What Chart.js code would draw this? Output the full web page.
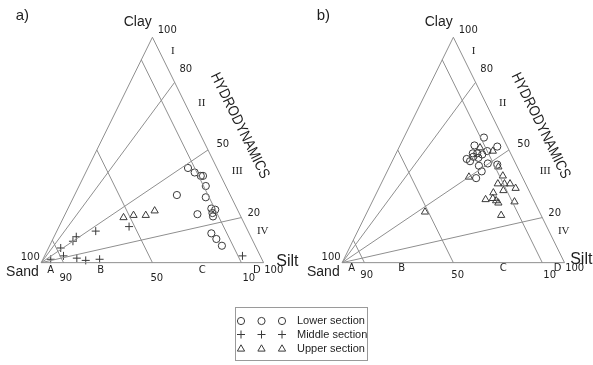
<!DOCTYPE html>
<html>
<head>
<meta charset="utf-8">
<script src="https://cdn.jsdelivr.net/npm/chart.js@4.4.1/dist/chart.umd.min.js"></script>
<style>
  html, body { margin: 0; padding: 0; background: #fff; }
  canvas { display: block; }
</style>
</head>
<body>
<canvas id="c" width="593" height="365"></canvas>
<script>
// Grain-size compositions in percent: [sand, silt, clay]
const lowerA = [
  [13, 45, 42], [11, 49, 40], [9, 52.5, 38.5], [8, 53.5, 38.5], [9, 57, 34],
  [24, 46, 30], [11.5, 59.5, 29], [19, 59.5, 21.5], [11.5, 64.5, 24], [10, 66.5, 23.5],
  [12, 66, 22], [12.5, 67, 20.5], [17, 70, 13], [16, 73.5, 10.5], [15, 77.5, 7.5]
];
const middleA = [
  [8, 89, 3], [52.5, 31.5, 16], [68.5, 17.5, 14], [78.5, 10, 11.5], [81, 9.5, 9.5],
  [88, 5.5, 6.5], [88.5, 8.5, 3], [95, 3.5, 1.5], [83, 15, 2], [79.5, 19.5, 1], [73, 25.5, 1.5]
];
const upperA = [
  [53, 27, 20], [48, 31, 21], [42.5, 36.5, 21], [37.5, 39.5, 23]
];
const lowerB = [
  [8.5, 36, 55.5], [14.5, 33.5, 52], [4.5, 44, 51.5], [17, 34.5, 48.5], [15, 36.5, 48.5],
  [13, 39, 48], [10, 40.5, 49.5], [21, 33, 46], [20, 35, 45], [15.5, 38, 46.5],
  [17, 40, 43], [12.5, 43.5, 44], [8.5, 48, 43.5], [17, 42.5, 40.5], [21, 41.5, 37.5], [17.5, 35.5, 47]
];
const upperB = [
  [24, 38, 38], [12.5, 36.5, 51], [7.5, 43, 49.5], [8.5, 49, 42.5], [8.5, 53, 38.5],
  [12.5, 52.5, 35], [9.5, 55.5, 35], [7, 58, 35], [5.5, 61.5, 33], [11.5, 56.5, 32],
  [16.5, 52.5, 31], [21.5, 50.5, 28], [18, 53.5, 28.5], [17, 55.5, 27.5], [16.5, 57, 26.5],
  [9, 64, 27], [18, 61, 21], [51.5, 26, 22.5]
];

// Pejrup diagram divisions
const clayRatioLines = [80, 50, 20];   // clay share of the mud fraction (%)
const sandLines = [90, 50, 10];        // sand content (%)
const sandLetters = ['A', 'B', 'C', 'D'];
const hydroClasses = ['I', 'II', 'III', 'IV'];
const seriesNames = ['Lower section', 'Middle section', 'Upper section'];
const panelNames = ['a)', 'b)'];

const PANEL_B_SHIFT = 1.3535;   // horizontal offset of the second triangle (triangle widths)
const LINE = '#8f8f8f';
const MARK = '#3a3a3a';
const TEXT = '#1e1e1e';

// ternary -> cartesian: sand at (0,0), silt at (1,0), clay at (0.5,1)
function tern(sand, silt, clay, shift) {
  const t = sand + silt + clay;
  return { x: shift + (silt + clay / 2) / t, y: clay / t };
}

function frameSegments(shift) {
  const S = [100, 0, 0], M = [0, 100, 0], C = [0, 0, 100];
  const segs = [[S, M], [M, C], [C, S]];
  clayRatioLines.forEach(r => segs.push([S, [0, 100 - r, r]]));
  sandLines.forEach(s => segs.push([[s, 100 - s, 0], [s, 0, 100 - s]]));
  return segs.map(([a, b]) => [tern(...a, shift), tern(...b, shift)]);
}

const datasets = [];
[0, PANEL_B_SHIFT].forEach(shift => {
  frameSegments(shift).forEach(pts => datasets.push({
    data: pts, showLine: true, borderColor: LINE, borderWidth: 1,
    pointRadius: 0, fill: false
  }));
});

function markers(rows, shift, style, r) {
  return {
    data: rows.map(p => tern(...p, shift)),
    pointStyle: style, pointRadius: r, pointBorderWidth: 1,
    borderColor: MARK, backgroundColor: 'rgba(0,0,0,0)', showLine: false
  };
}
datasets.push(markers(lowerA, 0, 'circle', 3.6));
datasets.push(markers(middleA, 0, 'cross', 4));
datasets.push(markers(upperA, 0, 'triangle', 4.2));
datasets.push(markers(lowerB, PANEL_B_SHIFT, 'circle', 3.6));
datasets.push(markers(upperB, PANEL_B_SHIFT, 'triangle', 4.2));

// text labels, offsets in pixels from each triangle's sand corner
const panels = [
  { shift: 0, name: panelNames[0], siltDx: 235, siltDy: 3, iiiDx: 196, letDy: 8, numDy: 16 },
  { shift: PANEL_B_SHIFT, name: panelNames[1], siltDx: 228, siltDy: 1, iiiDx: 203, letDy: 6, numDy: 13 }
];

const SANS = '"Liberation Sans", Arial, sans-serif';
const WIDE = '"DejaVu Sans", Verdana, sans-serif';
const SERIF = '"Liberation Serif", "Times New Roman", serif';

const labelPlugin = {
  id: 'ternaryLabels',
  afterDatasetsDraw(chart) {
    const { ctx, scales: { x, y } } = chart;
    const txt = (s, px, py, font, align, base) => {
      ctx.font = font; ctx.textAlign = align; ctx.textBaseline = base;
      ctx.fillText(s, px, py);
    };
    ctx.save();
    ctx.fillStyle = TEXT;
    panels.forEach(p => {
      const ox = x.getPixelForValue(p.shift), oy = y.getPixelForValue(0);
      const P = (u, v) => [ox + u, oy + v];
      txt(p.name, ...P(-25.5, -243), '15px ' + SANS, 'left', 'alphabetic');
      txt('Clay', ...P(110.5, -237), '14px ' + SANS, 'right', 'alphabetic');
      txt('100', ...P(116.5, -230), '10px ' + WIDE, 'left', 'alphabetic');
      txt('Sand', ...P(-2.5, 13), '14px ' + SANS, 'right', 'alphabetic');
      txt('100', ...P(-1.5, -3), '10px ' + WIDE, 'right', 'alphabetic');
      txt('Silt', ...P(p.siltDx, p.siltDy), '16px ' + SANS, 'left', 'alphabetic');

      // sand-content classes along the base
      const letX = [9.5, 59.5, 161, 215.5];
      sandLetters.forEach((s, i) => txt(s, ...P(letX[i], p.letDy), '10px ' + WIDE, 'center', 'middle'));
      const numX = [24.5, 115.5, 207.5];
      sandLines.forEach((s, i) => txt(String(s), ...P(numX[i], p.numDy), '10px ' + WIDE, 'center', 'middle'));
      txt('100', ...P(232.5, p.letDy), '10px ' + WIDE, 'center', 'middle');

      // hydrodynamic classes along the clay-silt side
      const ratioPos = [[144.5, -193], [181.5, -118], [212.5, -49]];
      clayRatioLines.forEach((r, i) => txt(String(r), ...P(...ratioPos[i]), '10px ' + WIDE, 'center', 'middle'));
      const romanPos = [[131.5, -212], [160.5, -160], [p.iiiDx, -92], [221.5, -32]];
      hydroClasses.forEach((r, i) => txt(r, ...P(...romanPos[i]), '11px ' + SERIF, 'center', 'middle'));

      // rotated axis title parallel to the clay-silt side
      const c = tern(0, 0, 100, p.shift), m = tern(0, 100, 0, p.shift);
      const ang = Math.atan2(y.getPixelForValue(m.y) - y.getPixelForValue(c.y),
                             x.getPixelForValue(m.x) - x.getPixelForValue(c.x));
      const [hx, hy] = P(198.5, -137);
      ctx.save();
      ctx.translate(hx, hy);
      ctx.rotate(ang);
      ctx.font = '15px ' + SANS;
      const w = ctx.measureText('HYDRODYNAMICS').width;
      ctx.scale(116 / w, 1);
      ctx.textAlign = 'center'; ctx.textBaseline = 'middle';
      ctx.fillText('HYDRODYNAMICS', 0, 0);
      ctx.restore();
    });

    // legend box
    const bx = 235.5, by = 307.5, bw = 132, bh = 53;
    ctx.strokeStyle = '#9a9a9a';
    ctx.lineWidth = 1;
    ctx.strokeRect(bx, by, bw, bh);
    const styles = ['circle', 'cross', 'triangle'];
    const radii = [3.6, 4, 4.2];
    const rowsY = [321, 334.5, 349];
    const colsX = [241, 261.5, 282];
    styles.forEach((st, i) => {
      colsX.forEach(cx => {
        ctx.strokeStyle = MARK;
        ctx.fillStyle = 'rgba(0,0,0,0)';
        ctx.lineWidth = 1;
        Chart.helpers.drawPoint(ctx, { pointStyle: st, radius: radii[i], borderWidth: 1 }, cx, rowsY[i]);
      });
      ctx.fillStyle = TEXT;
      txt(seriesNames[i], 297, rowsY[i], '11px ' + SANS, 'left', 'middle');
    });
    ctx.restore();
  }
};

new Chart(document.getElementById('c').getContext('2d'), {
  type: 'scatter',
  data: { datasets },
  options: {
    responsive: false,
    animation: false,
    events: [],
    layout: { padding: 0 },
    plugins: { legend: { display: false }, tooltip: { enabled: false } },
    scales: {
      x: { type: 'linear', min: -36.7 / 226.3, max: (593 - 36.7) / 226.3, display: false },
      y: { type: 'linear', min: -100 / 232, max: 265 / 232, display: false }
    }
  },
  plugins: [labelPlugin]
});
</script>
</body>
</html>
